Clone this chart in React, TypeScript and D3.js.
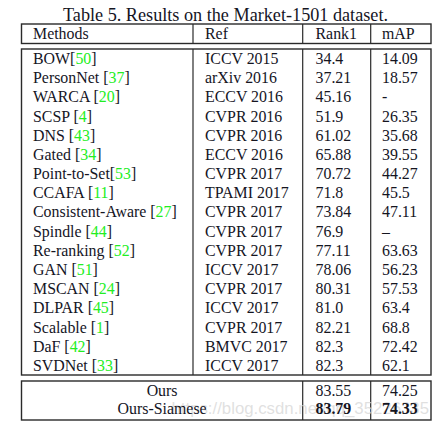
import React from "react";
import * as d3 from "d3";

const title = "Table 5. Results on the Market-1501 dataset.";
const headers = ["Methods", "Ref", "Rank1", "mAP"];
const methods = ["BOW", "PersonNet", "WARCA", "SCSP", "DNS", "Gated", "Point-to-Set", "CCAFA", "Consistent-Aware", "Spindle", "Re-ranking", "GAN", "MSCAN", "DLPAR", "Scalable", "DaF", "SVDNet"];
const citations = ["50", "37", "20", "4", "43", "34", "53", "11", "27", "44", "52", "51", "24", "45", "1", "42", "33"];
const citeSpace = [false, true, true, true, true, true, false, true, true, true, true, true, true, true, true, true, true];
const refs = ["ICCV 2015", "arXiv 2016", "ECCV 2016", "CVPR 2016", "CVPR 2016", "ECCV 2016", "CVPR 2017", "TPAMI 2017", "CVPR 2017", "CVPR 2017", "CVPR 2017", "ICCV 2017", "CVPR 2017", "ICCV 2017", "CVPR 2017", "BMVC 2017", "ICCV 2017"];
const rank1 = ["34.4", "37.21", "45.16", "51.9", "61.02", "65.88", "70.72", "71.8", "73.84", "76.9", "77.11", "78.06", "80.31", "81.0", "82.21", "82.3", "82.3"];
const mAP = ["14.09", "18.57", "-", "26.35", "35.68", "39.55", "44.27", "45.5", "47.11", "–", "63.63", "56.23", "57.53", "63.4", "68.8", "72.42", "62.1"];
const oursMethods = ["Ours", "Ours-Siamese"];
const oursRank1 = ["83.55", "83.79"];
const oursMAP = ["74.25", "74.33"];
const oursBold = [false, true];
const watermark = "https://blog.csdn.net/qq_35226335";

const FONT = "'Liberation Serif', 'Times New Roman', serif";
const INK = "#15151f";
const LINE = "#2a2a2a";
const GREEN = "#22ee22";

export default function App() {
  const W = 438, H = 428;
  const L = 21.5, R = 431;
  const colX = [L, 193, 302.7, 370.7, R];
  const textX = [33, 205, 315.5, 382];

  const headTop = 24, headBot = 43.5;
  const bodyTop = 49, bodyBot = 375;
  const oursTop = 381, oursBot = 420;

  const yBody = d3.scaleBand<number>().domain(d3.range(methods.length)).range([48.8, 375]);
  const yOurs = d3.scaleBand<number>().domain(d3.range(oursMethods.length)).range([380.8, 417.6]);

  const fs = 15.9;
  const cy = (s: d3.ScaleBand<number>, i: number) => (s(i) as number) + s.bandwidth() / 2;

  return (
    <svg width={W} height={H} style={{ position: "absolute", left: 0, top: 0, background: "#fff" }} fontFamily={FONT}>
      <rect x={0} y={0} width={W} height={H} fill="#fff" />
      <text x={225.5} y={21} textAnchor="middle" fontSize={18.2} fill={INK}>{title}</text>

      {/* header box */}
      <rect x={L} y={headTop} width={R - L} height={headBot - headTop} fill="none" stroke={LINE} strokeWidth={1.4} />
      {colX.slice(1, 4).map((x, i) => (
        <line key={"hv" + i} x1={x} x2={x} y1={headTop} y2={headBot} stroke={LINE} strokeWidth={1.2} />
      ))}
      {headers.map((h, i) => (
        <text key={"h" + i} x={textX[i]} y={(headTop + headBot) / 2} dy="0.35em" fontSize={fs} fill={INK}>{h}</text>
      ))}

      {/* body box */}
      <rect x={L} y={bodyTop} width={R - L} height={bodyBot - bodyTop} fill="none" stroke={LINE} strokeWidth={1.4} />
      {colX.slice(1, 4).map((x, i) => (
        <line key={"bv" + i} x1={x} x2={x} y1={bodyTop} y2={bodyBot} stroke={LINE} strokeWidth={1.2} />
      ))}
      {methods.map((m, i) => {
        const y = cy(yBody, i);
        return (
          <g key={"r" + i}>
            <text x={textX[0]} y={y} dy="0.35em" fontSize={fs} fill={INK}>
              {m}{citeSpace[i] ? " " : ""}[<tspan fill={GREEN}>{citations[i]}</tspan>]
            </text>
            <text x={textX[1]} y={y} dy="0.35em" fontSize={fs} fill={INK}>{refs[i]}</text>
            <text x={textX[2]} y={y} dy="0.35em" fontSize={fs} fill={INK}>{rank1[i]}</text>
            <text x={textX[3]} y={y} dy="0.35em" fontSize={fs} fill={INK}>{mAP[i]}</text>
          </g>
        );
      })}

      {/* ours box */}
      <rect x={L} y={oursTop} width={R - L} height={oursBot - oursTop} fill="none" stroke={LINE} strokeWidth={1.4} />
      {colX.slice(2, 4).map((x, i) => (
        <line key={"ov" + i} x1={x} x2={x} y1={oursTop} y2={oursBot} stroke={LINE} strokeWidth={1.2} />
      ))}
      <text x={429} y={414} fontSize={16.8} fill="#d6d6d6" fillOpacity={0.75} fontFamily="'Liberation Sans', Arial, sans-serif" textAnchor="end">{watermark}</text>
      {oursMethods.map((m, i) => {
        const y = cy(yOurs, i);
        const fw = oursBold[i] ? "bold" : "normal";
        return (
          <g key={"o" + i}>
            <text x={(colX[0] + colX[2]) / 2} y={y} dy="0.35em" fontSize={fs} fill={INK} textAnchor="middle">{m}</text>
            <text x={textX[2]} y={y} dy="0.35em" fontSize={fs} fill={INK} fontWeight={fw}>{oursRank1[i]}</text>
            <text x={textX[3]} y={y} dy="0.35em" fontSize={fs} fill={INK} fontWeight={fw}>{oursMAP[i]}</text>
          </g>
        );
      })}
    </svg>
  );
}
